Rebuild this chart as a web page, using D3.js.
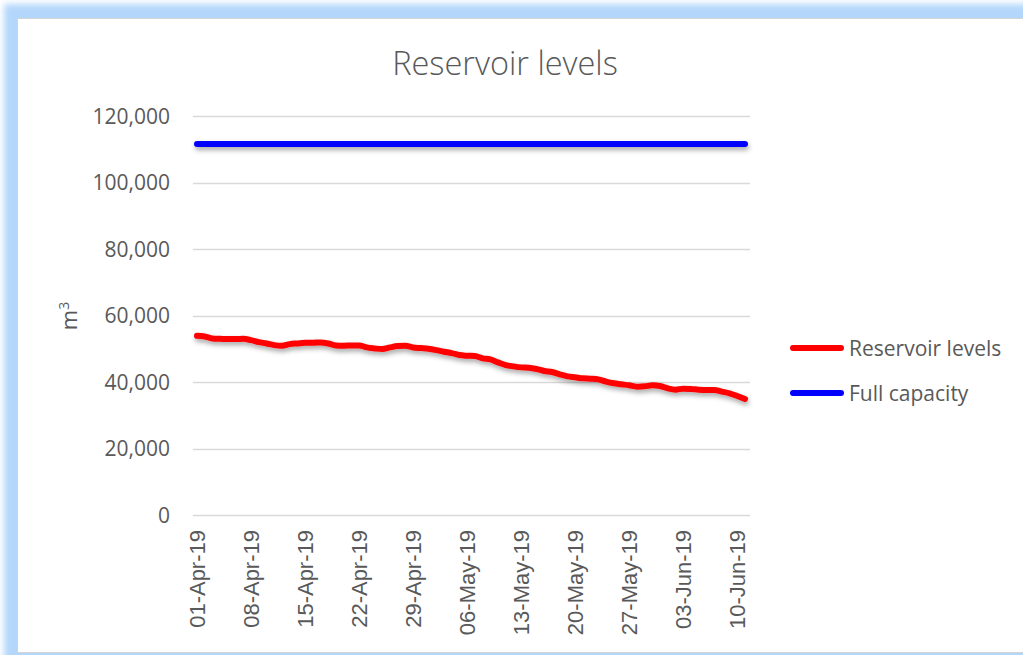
<!DOCTYPE html>
<html>
<head>
<meta charset="utf-8">
<script src="https://cdnjs.cloudflare.com/ajax/libs/d3/7.8.5/d3.min.js"></script>
<style>
  html, body { margin: 0; padding: 0; background: #fff; }
  svg { display: block; }
</style>
</head>
<body>
<div id="chart"></div>
<script>
var width = 1023;
var height = 655;

// daily reservoir level, m3, 01-Apr-19 .. 11-Jun-19
var startDate = "01-Apr-19";
var levels = [
  53900, 53700, 53100, 53000, 52900, 52900, 53000, 52600, 52000, 51600,
  51100, 50900, 51400, 51600, 51800, 51800, 51900, 51600, 51000, 50900,
  51000, 51000, 50400, 50100, 49900, 50400, 50800, 50900, 50400, 50200,
  50000, 49600, 49100, 48700, 48100, 47900, 47800, 47100, 46800, 45900,
  45100, 44700, 44400, 44300, 43900, 43300, 43000, 42300, 41700, 41400,
  41100, 41000, 40800, 40100, 39600, 39300, 39000, 38600, 38700, 39000,
  38800, 38100, 37700, 38000, 37900, 37700, 37600, 37600, 37100, 36600,
  35800, 34900
];
var fullCapacity = 111600;
var dateTicks = ["01-Apr-19", "08-Apr-19", "15-Apr-19", "22-Apr-19", "29-Apr-19",
  "06-May-19", "13-May-19", "20-May-19", "27-May-19", "03-Jun-19", "10-Jun-19"];
var yTicks = [0, 20000, 40000, 60000, 80000, 100000, 120000];
var seriesNames = ["Reservoir levels", "Full capacity"];
var seriesColors = ["#ff0000", "#0000ff"];

var parseDate = d3.timeParse("%d-%b-%y");
var start = parseDate(startDate);
var data = levels.map(function(v, i) {
  return { date: d3.timeDay.offset(start, i), value: v };
});

var plot = { left: 193, right: 750, top: 116, bottom: 515 };

var svg = d3.select("#chart").append("svg")
  .attr("width", width)
  .attr("height", height);

var defs = svg.append("defs");
defs.append("filter").attr("id", "glow")
  .attr("x", "-10%").attr("y", "-10%").attr("width", "120%").attr("height", "120%")
  .append("feGaussianBlur").attr("stdDeviation", 3);
// user space region so the flat capacity line still gets a shadow
var shadow = defs.append("filter").attr("id", "shadow")
  .attr("filterUnits", "userSpaceOnUse")
  .attr("x", 0).attr("y", 0).attr("width", width).attr("height", height);
shadow.append("feDropShadow")
  .attr("dx", 1).attr("dy", 3).attr("stdDeviation", 2.5)
  .attr("flood-color", "#000").attr("flood-opacity", 0.35);

// frame: blue glow behind the white chart panel
svg.append("rect")
  .attr("x", 4).attr("y", 4)
  .attr("width", width + 40).attr("height", height + 40)
  .attr("fill", "#b3d7fb")
  .attr("filter", "url(#glow)");
svg.append("rect")
  .attr("x", 17.5).attr("y", 18.5)
  .attr("width", width + 20).attr("height", height - 21)
  .attr("fill", "#fff")
  .attr("stroke", "#d4d4d4");

var x = d3.scaleTime()
  .domain([start, d3.timeDay.offset(start, levels.length - 1)])
  .range([197, 745]);
var y = d3.scaleLinear()
  .domain([0, 120000])
  .range([plot.bottom, plot.top]);

// title
svg.append("text")
  .attr("x", 505).attr("y", 75)
  .attr("text-anchor", "middle")
  .style("font-family", "'Open Sans', sans-serif")
  .style("font-weight", 300)
  .style("font-size", "32.5px")
  .attr("fill", "#595959")
  .text("Reservoir levels");

// gridlines
svg.append("g").selectAll("line")
  .data(yTicks)
  .enter().append("line")
  .attr("x1", plot.left).attr("x2", plot.right)
  .attr("y1", function(d) { return Math.round(y(d)) + 0.5; })
  .attr("y2", function(d) { return Math.round(y(d)) + 0.5; })
  .attr("stroke", "#d9d9d9")
  .attr("stroke-width", 1.3);

// y axis labels
svg.append("g").selectAll("text")
  .data(yTicks)
  .enter().append("text")
  .attr("x", 170)
  .attr("y", function(d) { return y(d); })
  .attr("dy", "0.36em")
  .attr("text-anchor", "end")
  .style("font-family", "'Open Sans', sans-serif")
  .style("font-size", "21px")
  .attr("fill", "#595959")
  .text(function(d) { return d3.format(",")(d); });

// y axis title
var yTitle = svg.append("text")
  .attr("transform", "translate(77,316) rotate(-90)")
  .attr("text-anchor", "middle")
  .style("font-family", "'Open Sans', sans-serif")
  .style("font-size", "22px")
  .attr("fill", "#595959");
yTitle.append("tspan").text("m");
yTitle.append("tspan").attr("dy", "-0.55em").style("font-size", "14px").text("3");

// x axis labels
svg.append("g").selectAll("text")
  .data(dateTicks)
  .enter().append("text")
  .attr("transform", function(d) {
    return "translate(" + x(parseDate(d)) + ",530) rotate(-90)";
  })
  .attr("dy", "0.36em")
  .attr("text-anchor", "end")
  .style("font-family", "'Liberation Sans', Arial, sans-serif")
  .style("font-size", "22px")
  .attr("fill", "#595959")
  .text(function(d) { return d; });

// full capacity line
svg.append("line")
  .attr("x1", x.range()[0]).attr("x2", x.range()[1])
  .attr("y1", y(fullCapacity)).attr("y2", y(fullCapacity))
  .attr("stroke", seriesColors[1])
  .attr("stroke-width", 6)
  .attr("stroke-linecap", "round")
  .attr("filter", "url(#shadow)");

// reservoir level line
var line = d3.line()
  .x(function(d) { return x(d.date); })
  .y(function(d) { return y(d.value); })
  .curve(d3.curveMonotoneX);

svg.append("path")
  .datum(data)
  .attr("d", line)
  .attr("fill", "none")
  .attr("stroke", seriesColors[0])
  .attr("stroke-width", 6)
  .attr("stroke-linecap", "round")
  .attr("stroke-linejoin", "round")
  .attr("filter", "url(#shadow)");

// legend
var legend = svg.append("g").selectAll("g")
  .data(seriesNames)
  .enter().append("g")
  .attr("transform", function(d, i) { return "translate(0," + (348 + i * 45) + ")"; });
legend.append("line")
  .attr("x1", 793).attr("x2", 841)
  .attr("stroke", function(d, i) { return seriesColors[i]; })
  .attr("stroke-width", 6)
  .attr("stroke-linecap", "round");
legend.append("text")
  .attr("x", 849)
  .attr("dy", "0.36em")
  .style("font-family", "'Open Sans', sans-serif")
  .style("font-size", "21px")
  .attr("fill", "#595959")
  .text(function(d) { return d; });
</script>
</body>
</html>
